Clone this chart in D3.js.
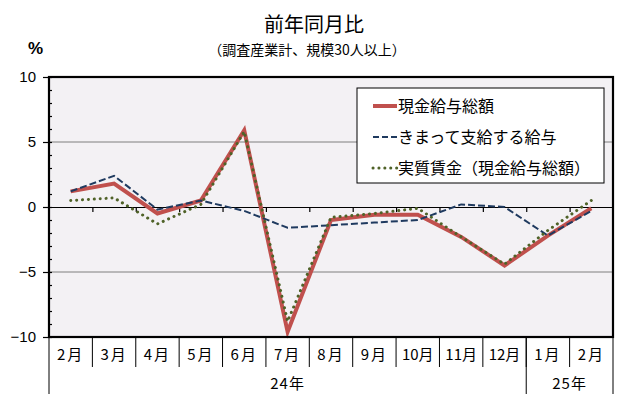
<!DOCTYPE html>
<html><head><meta charset="utf-8">
<script src="https://cdn.jsdelivr.net/npm/d3@7"></script>
<style>
body{margin:0;background:#fff;}
text{font-family:"Noto Sans CJK JP","Noto Sans",sans-serif;}
</style></head>
<body>
<svg id="chart" width="630" height="410"></svg>
<script>
// ---- data ----
const categories = ["2月","3月","4月","5月","6月","7月","8月","9月","10月","11月","12月","1月","2月"];
const yearLabels = ["24年","25年"];
const yearSpans = [11, 2];
const seriesNames = ["現金給与総額","きまって支給する給与","実質賃金（現金給与総額）"];
const genkin   = [1.2, 1.8, -0.5, 0.5, 5.9, -9.6, -1.0, -0.6, -0.6, -2.3, -4.5, -2.2, -0.1];
const kimatte  = [1.2, 2.4, -0.2, 0.5, -0.3, -1.6, -1.4, -1.2, -1.0, 0.2, 0.0, -2.2, -0.3];
const jisshitsu= [0.5, 0.7, -1.3, 0.2, 5.8, -8.8, -0.8, -0.5, -0.1, -2.3, -4.4, -1.8, 0.5];
const majorTicks = [-10, -5, 0, 5, 10];
const tickLabels = ["−10", "−5", "0", "5", "10"];

// ---- layout ----
const L = 49, R = 613, T = 77, B = 337;
const svg = d3.select("#chart");
const idx = categories.map((d, i) => i);
const x = d3.scaleBand().domain(idx).range([L, R]).paddingInner(0).paddingOuter(0);
const y = d3.scaleLinear().domain([-10, 10]).range([B, T]);

// titles
svg.append("text").attr("x", 314).attr("y", 32).attr("text-anchor", "middle")
  .attr("font-size", 20).text("前年同月比");
svg.append("text").attr("x", 307).attr("y", 55).attr("text-anchor", "middle")
  .attr("font-size", 14).text("（調査産業計、規模30人以上）");
svg.append("text").attr("x", 28).attr("y", 54).attr("font-size", 17).attr("font-weight", "bold")
  .style("font-family", "'Liberation Sans',Arial,sans-serif").text("%");

// plot background
svg.append("rect").attr("x", L).attr("y", T).attr("width", R - L).attr("height", B - T).attr("fill", "#f3f1f4");

// gridlines at ±5
svg.append("g").selectAll("line").data([-5, 5]).join("line")
  .attr("x1", L).attr("x2", R).attr("y1", d => y(d)).attr("y2", d => y(d))
  .attr("stroke", "#7f7f7f").attr("stroke-width", 1);

// zero line with category ticks
const zero = svg.append("g").attr("transform", `translate(0,${y(0)})`)
  .call(d3.axisBottom(d3.scaleLinear().domain([0, categories.length]).range([L, R]))
    .tickValues(d3.range(1, categories.length)).tickSize(5).tickSizeOuter(0).tickFormat(""));
zero.select(".domain").attr("stroke", "#000").attr("stroke-width", 1.2);
zero.selectAll(".tick line").attr("stroke", "#000").attr("stroke-width", 1.2);

// y axis minor ticks (inside)
const minor = svg.append("g").attr("transform", `translate(${L},0)`)
  .call(d3.axisLeft(y).tickValues(d3.range(-10, 11, 1)).tickSize(-3).tickFormat(""));
minor.select(".domain").remove();
minor.selectAll(".tick line").attr("stroke", "#000").attr("stroke-width", 1.2);

// y axis major ticks (outside) with labels
const yAx = svg.append("g").attr("transform", `translate(${L},0)`)
  .call(d3.axisLeft(y).tickValues(majorTicks).tickSize(6).tickSizeOuter(0)
    .tickFormat((d, i) => tickLabels[i]));
yAx.select(".domain").remove();
yAx.selectAll(".tick line").attr("stroke", "#000").attr("stroke-width", 1.2);
yAx.selectAll(".tick text").attr("x", -13).attr("font-size", 15).attr("fill", "#000")
  .style("font-family", "'Liberation Sans',Arial,sans-serif");

// series lines
const line = vals => d3.line().x((d, i) => x(i) + x.bandwidth() / 2).y(d => y(d))(vals);
svg.append("path").attr("d", line(genkin)).attr("fill", "none")
  .attr("stroke", "#c0504d").attr("stroke-width", 4).attr("stroke-linejoin", "miter");
svg.append("path").attr("d", line(kimatte)).attr("fill", "none")
  .attr("stroke", "#1f3a5f").attr("stroke-width", 2).attr("stroke-dasharray", "7,3");
svg.append("path").attr("d", line(jisshitsu)).attr("fill", "none")
  .attr("stroke", "#4f6228").attr("stroke-width", 3).attr("stroke-linecap", "round")
  .attr("stroke-dasharray", "0.1,5.8");

// plot border
svg.append("rect").attr("x", L).attr("y", T).attr("width", R - L).attr("height", B - T)
  .attr("fill", "none").attr("stroke", "#000").attr("stroke-width", 2.2);

// category axis below
const catBottom = 367, yearBottom = 394;
svg.append("g").selectAll("line").data(d3.range(1, categories.length)).join("line")
  .attr("x1", i => x(i)).attr("x2", i => x(i)).attr("y1", B).attr("y2", catBottom)
  .attr("stroke", "#000").attr("stroke-width", 1);
svg.append("g").selectAll("text").data(categories).join("text")
  .attr("x", (d, i) => x(i) + x.bandwidth() / 2).attr("y", 360)
  .attr("text-anchor", "middle").attr("font-size", 15)
  .attr("letter-spacing", d => d.length < 3 ? 2 : 0)
  .text(d => d);
// year groups
let start = 0;
const yearBounds = [0];
yearSpans.forEach(s => { start += s; yearBounds.push(start); });
svg.append("g").selectAll("line").data(yearBounds).join("line")
  .attr("x1", b => b === categories.length ? R : x(b)).attr("x2", b => b === categories.length ? R : x(b))
  .attr("y1", B).attr("y2", yearBottom).attr("stroke", "#000").attr("stroke-width", 1);
svg.append("g").selectAll("text").data(yearLabels).join("text")
  .attr("x", (d, i) => {
    const a = x(yearBounds[i]);
    const b = yearBounds[i + 1] === categories.length ? R : x(yearBounds[i + 1]);
    return (a + b) / 2;
  })
  .attr("y", 389).attr("text-anchor", "middle").attr("font-size", 15).attr("letter-spacing", 1)
  .text(d => d);

// legend
const lg = svg.append("g");
lg.append("rect").attr("x", 357).attr("y", 88).attr("width", 247).attr("height", 95)
  .attr("fill", "#fff").attr("stroke", "#000").attr("stroke-width", 1);
const styles = [
  {stroke: "#c0504d", w: 4, dash: null, cap: "butt"},
  {stroke: "#1f3a5f", w: 2, dash: "6,3", cap: "butt"},
  {stroke: "#4f6228", w: 3, dash: "0.1,5.8", cap: "round"}
];
const rowY = [106, 137, 168];
seriesNames.forEach((n, i) => {
  lg.append("line").attr("x1", 373).attr("x2", 397).attr("y1", rowY[i]).attr("y2", rowY[i])
    .attr("stroke", styles[i].stroke).attr("stroke-width", styles[i].w)
    .attr("stroke-dasharray", styles[i].dash).attr("stroke-linecap", styles[i].cap);
  lg.append("text").attr("x", 398).attr("y", rowY[i] + 6).attr("font-size", 16).text(n);
});
</script>
</body></html>
